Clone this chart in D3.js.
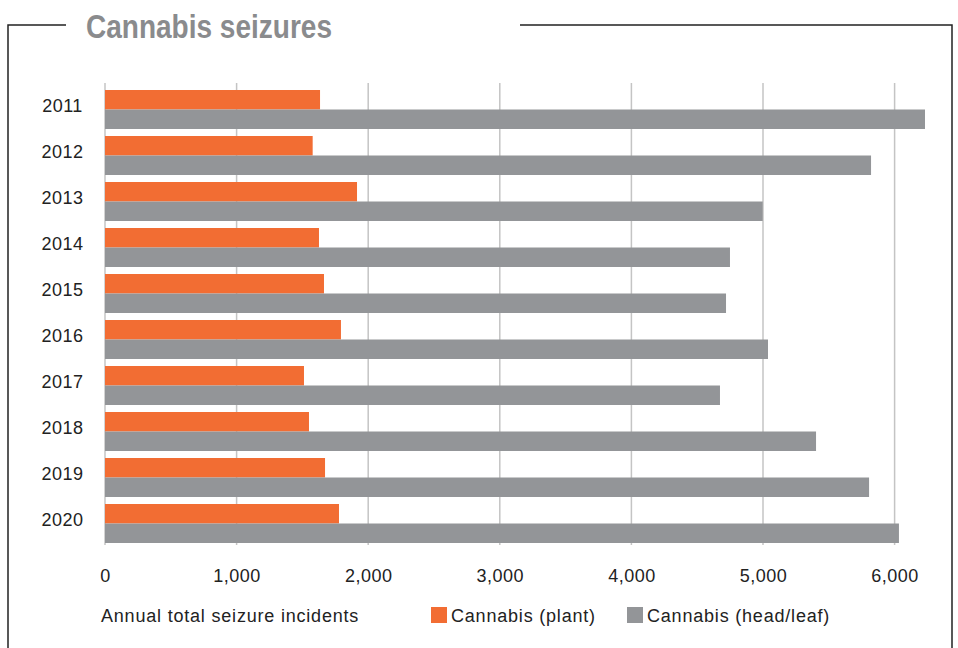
<!DOCTYPE html>
<html>
<head>
<meta charset="utf-8">
<script src="https://cdn.jsdelivr.net/npm/d3@7"></script>
<style>
  body { margin: 0; background: #fff; }
  svg { display: block; }
</style>
</head>
<body>
<svg id="chart" width="958" height="648"></svg>
<script>
// data
var years = ["2011", "2012", "2013", "2014", "2015", "2016", "2017", "2018", "2019", "2020"];
var plant = [1634, 1578, 1915, 1626, 1664, 1793, 1512, 1550, 1672, 1778];
var headLeaf = [6231, 5821, 4998, 4749, 4719, 5038, 4673, 5403, 5806, 6033];
var xTicks = [0, 1000, 2000, 3000, 4000, 5000, 6000];
var seriesNames = ["Cannabis (plant)", "Cannabis (head/leaf)"];

var orange = "#f26d33", grey = "#939598";
var font = "'Liberation Sans', Arial, sans-serif";

var svg = d3.select("#chart");

// frame
svg.append("path")
  .attr("d", "M8,648 L8,25 L66,25 M520,25 L952,25 L952,648")
  .attr("fill", "none").attr("stroke", "#222").attr("stroke-width", 1.5);

svg.append("text")
  .attr("x", 86).attr("y", 38)
  .attr("font-family", "'Liberation Sans Narrow', 'Liberation Sans', sans-serif")
  .attr("font-weight", "bold")
  .attr("font-size", 33)
  .attr("fill", "#8a8b8d")
  .attr("textLength", 246).attr("lengthAdjust", "spacingAndGlyphs")
  .text("Cannabis seizures");

var x = d3.scaleLinear().domain([0, 6000]).range([105, 894.6]);
var y = d3.scaleBand().domain(years).range([90, 543]).paddingInner(7 / 46).paddingOuter(0);
var inner = d3.scaleBand().domain([0, 1]).range([0, y.bandwidth()]);

// grid
svg.append("g").selectAll("line").data(xTicks).join("line")
  .attr("x1", d => x(d)).attr("x2", d => x(d))
  .attr("y1", 83).attr("y2", 545)
  .attr("stroke", "#c4c4c4").attr("stroke-width", 1.5);

var rows = svg.append("g").selectAll("g").data(years).join("g")
  .attr("transform", d => "translate(0," + y(d) + ")");

rows.append("rect")
  .attr("x", x(0)).attr("y", inner(0))
  .attr("width", (d, i) => x(plant[i]) - x(0))
  .attr("height", inner.bandwidth())
  .attr("fill", orange);

rows.append("rect")
  .attr("x", x(0)).attr("y", inner(1))
  .attr("width", (d, i) => x(headLeaf[i]) - x(0))
  .attr("height", inner.bandwidth())
  .attr("fill", grey);

rows.append("text")
  .attr("x", 62.5).attr("y", 21.7)
  .attr("text-anchor", "middle")
  .attr("font-family", font).attr("font-size", 18).attr("letter-spacing", 0.5).attr("fill", "#222")
  .text(d => d);

// x axis labels
var axis = d3.axisBottom(x).tickValues(xTicks).tickSize(0).tickFormat(d3.format(","));
var ax = svg.append("g").attr("transform", "translate(0,566)").call(axis);
ax.select(".domain").remove();
ax.selectAll("text").attr("font-family", font).attr("font-size", 18).attr("letter-spacing", 0.5).attr("fill", "#222");

// legend
var leg = svg.append("g").attr("font-family", font).attr("font-size", 18).attr("letter-spacing", 0.8).attr("fill", "#222");
leg.append("text").attr("x", 101).attr("y", 622).text("Annual total seizure incidents");
var items = [{ x: 431, c: orange }, { x: 627, c: grey }];
items.forEach(function (it, i) {
  leg.append("rect").attr("x", it.x).attr("y", 607).attr("width", 16).attr("height", 16).attr("fill", it.c);
  leg.append("text").attr("x", it.x + 20).attr("y", 622).text(seriesNames[i]);
});
</script>
</body>
</html>
